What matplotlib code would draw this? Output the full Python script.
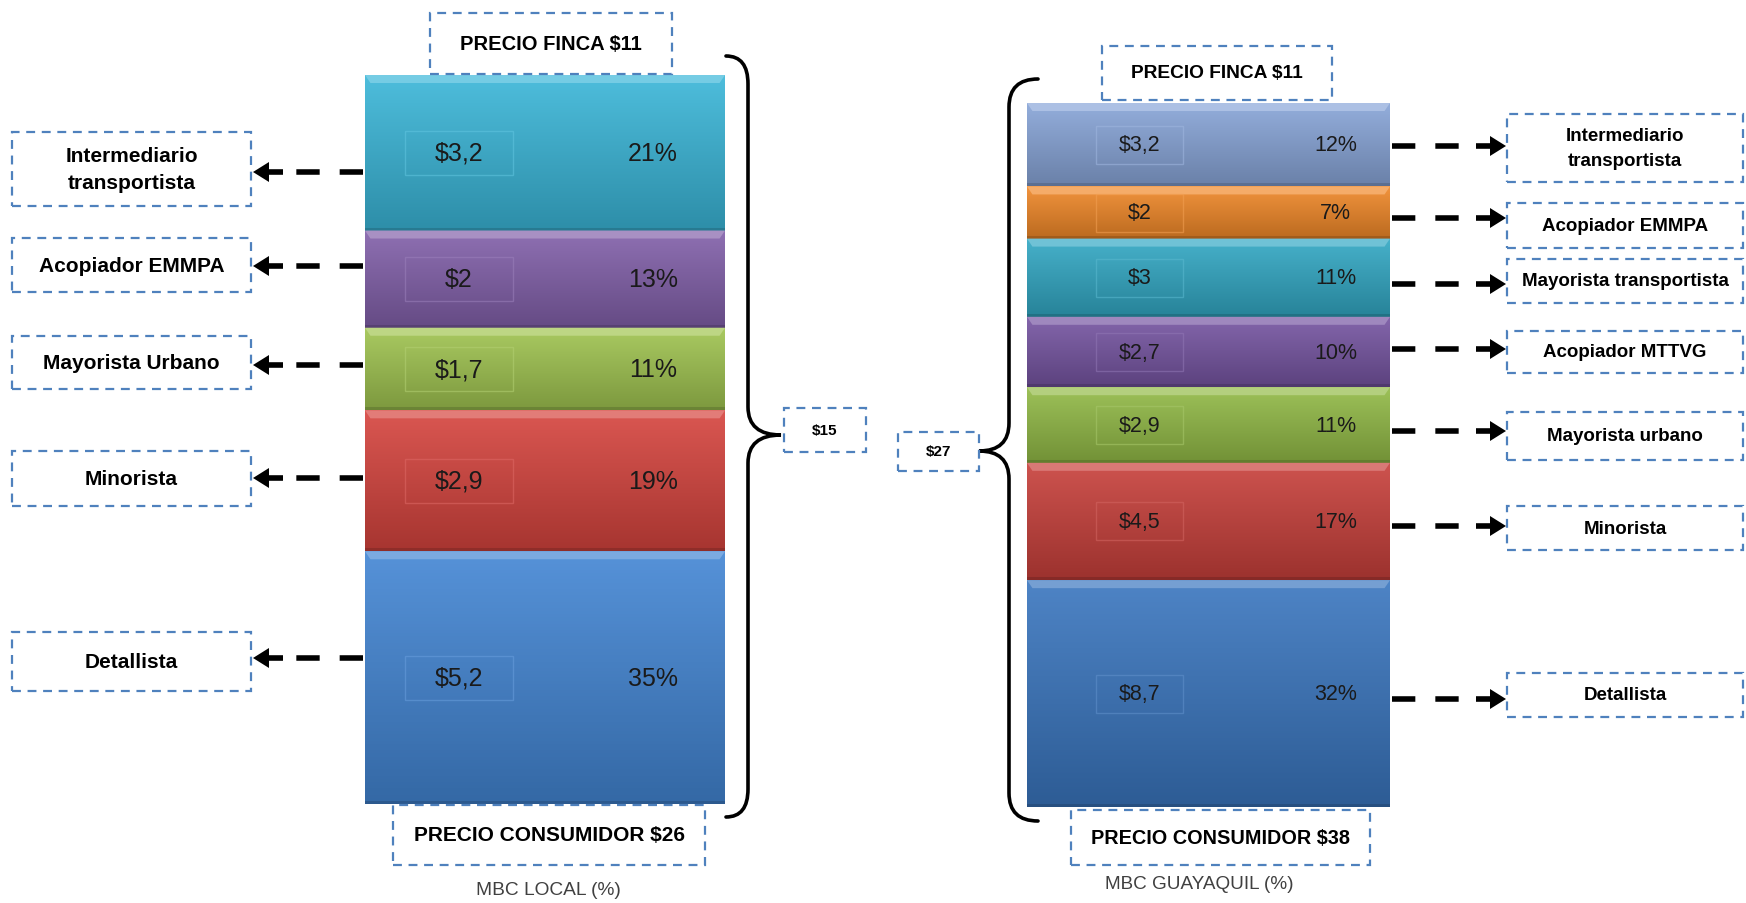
import numpy as np
import matplotlib
matplotlib.use('Agg')
import matplotlib.pyplot as plt
import matplotlib.colors as mcolors
from matplotlib.patches import Rectangle, Polygon, PathPatch
from matplotlib.path import Path
from matplotlib.lines import Line2D

plt.rcParams['font.family'] = ['Liberation Sans', 'DejaVu Sans']

W, H = 1746, 904

# MBC local market, agents from farm (top) to consumer (bottom)
local_agents = ['Intermediario\ntransportista', 'Acopiador EMMPA', 'Mayorista Urbano',
                'Minorista', 'Detallista']
local_margin = [3.2, 2, 1.7, 2.9, 5.2]
local_pct = [21, 13, 11, 19, 35]
local_colors = ['#3ab6d8', '#8260aa', '#a0c450', '#d6443e', '#4386d4']
local_farm, local_consumer, local_total = 11, 26, 15

# MBC Guayaquil market
gye_agents = ['Intermediario\ntransportista', 'Acopiador EMMPA', 'Mayorista transportista',
              'Acopiador MTTVG', 'Mayorista urbano', 'Minorista', 'Detallista']
gye_margin = [3.2, 2, 3, 2.7, 2.9, 4.5, 8.7]
gye_pct = [12, 7, 11, 10, 11, 17, 32]
gye_colors = ['#88a5d8', '#f08828', '#32a8c4', '#7655a2', '#92ba46', '#c8403b', '#3a76bf']
gye_farm, gye_consumer, gye_total = 11, 38, 27

fig = plt.figure(figsize=(W / 100, H / 100), dpi=100)
fig.patch.set_facecolor('white')


def fx(x):
    return x / W


def fy(y):
    return 1 - y / H


def shade(color, f):
    c = np.array(mcolors.to_rgb(color))
    if f > 0:
        return c + (1 - c) * f
    return c * (1 + f)


def money(v):
    return '$' + f'{v:g}'.replace('.', ',')


def dashed_box(x0, y0, x1, y1, text, fs, weight='bold'):
    fig.add_artist(Rectangle((fx(x0), fy(y1)), (x1 - x0) / W, (y1 - y0) / H,
                             transform=fig.transFigure, facecolor='white',
                             edgecolor='#4f81bd', lw=1.6, ls=(0, (4, 3)), zorder=3))
    fig.text(fx((x0 + x1) / 2), fy((y0 + y1) / 2), text, ha='center', va='center',
             fontsize=fs, fontweight=weight, color='black', linespacing=1.55, zorder=4)


def arrow(x_start, x_tip, y):
    d = 1 if x_tip > x_start else -1
    head_base = x_tip - d * 30
    fig.add_artist(Line2D([fx(x_start), fx(head_base)], [fy(y), fy(y)],
                          transform=fig.transFigure, color='black', lw=4,
                          dashes=(4.2, 3.6), solid_capstyle='butt', dash_capstyle='butt'))
    hb = x_tip - d * 16
    pts = [(head_base, y - 2.8), (hb, y - 2.8), (hb, y - 10), (x_tip, y),
           (hb, y + 10), (hb, y + 2.8), (head_base, y + 2.8)]
    fig.add_artist(Polygon([(fx(a), fy(b)) for a, b in pts], closed=True,
                           transform=fig.transFigure, color='black', lw=0))


def brace(x_end, x_mid, x_tip, y_top, y_tip, y_bot, r=28):
    verts = [(x_end, y_top), (x_mid, y_top), (x_mid, y_top + r),
             (x_mid, y_tip - r), (x_mid, y_tip), (x_tip, y_tip),
             (x_mid, y_tip), (x_mid, y_tip + r),
             (x_mid, y_bot - r), (x_mid, y_bot), (x_end, y_bot)]
    codes = [Path.MOVETO, Path.CURVE3, Path.CURVE3, Path.LINETO, Path.CURVE3, Path.CURVE3,
             Path.CURVE3, Path.CURVE3, Path.LINETO, Path.CURVE3, Path.CURVE3]
    path = Path([(fx(a), fy(b)) for a, b in verts], codes)
    fig.add_artist(PathPatch(path, transform=fig.transFigure, fill=False,
                             lw=2.6, ec='black', capstyle='round'))


def stacked_bar(rect, values, pct, colors, val_x, pct_x, box_w, box_h, fs):
    x0, y0, x1, y1 = rect
    ax = fig.add_axes([fx(x0), fy(y1), (x1 - x0) / W, (y1 - y0) / H])
    total = sum(values)
    bottoms = total - np.cumsum(values)
    bars = ax.bar(0, values, width=1, bottom=bottoms, align='edge', color=colors, lw=0)
    upx = total / (y1 - y0)  # data units per pixel
    grad = np.linspace(0, 1, 80)[:, None, None]
    for b, c, v, p in zip(bars, colors, values, pct):
        by, bh = b.get_y(), b.get_height()
        top = by + bh
        img = shade(c, 0.1)[None, None, :] * (1 - grad) + shade(c, -0.22)[None, None, :] * grad
        img = np.repeat(img, 2, axis=1)
        im = ax.imshow(img, extent=(0, 1, by, top), aspect='auto', origin='upper', zorder=2)
        im.set_clip_path(b)
        # bevel highlight along the top edge
        ax.add_patch(Polygon([(0, top), (1, top), (0.985, top - 8 * upx), (0.015, top - 8 * upx)],
                             closed=True, color=shade(c, 0.3), lw=0, zorder=3))
        ax.add_patch(Rectangle((0, by), 1, 3 * upx, color=shade(c, -0.4), lw=0, zorder=3, alpha=0.6))
        mid = by + bh / 2
        ax.add_patch(Rectangle((val_x - box_w / 2, mid - box_h * upx / 2), box_w, box_h * upx,
                               fill=False, ec=shade(c, 0.2), lw=1, alpha=0.55, zorder=4))
        ax.text(val_x, mid, money(v), ha='center', va='center', fontsize=fs,
                color='#1a1a1a', zorder=5)
        ax.text(pct_x, mid, f'{p}%', ha='center', va='center', fontsize=fs,
                color='#1a1a1a', zorder=5)
    ax.set_xlim(0, 1)
    ax.set_ylim(0, total)
    ax.axis('off')
    return ax


# left panel: MBC local
stacked_bar((365, 76, 725, 805), local_margin, local_pct, local_colors,
            0.26, 0.80, 0.30, 44, 18)
dashed_box(430, 14, 672, 75, f'PRECIO FINCA ${local_farm}', 14.5)
dashed_box(393, 806, 705, 866, f'PRECIO CONSUMIDOR ${local_consumer}', 15)
fig.text(fx(548), fy(891), 'MBC LOCAL (%)', ha='center', va='center', fontsize=13.8, color='#404040')
local_boxes = [(133, 207), (239, 293), (337, 390), (452, 507), (633, 692)]
local_arrows = [173, 267, 366, 479, 659]
for name, (b0, b1), ya in zip(local_agents, local_boxes, local_arrows):
    dashed_box(12, b0, 251, b1, name, 15)
    arrow(363, 253, ya)
brace(726, 748, 781, 57, 436, 818)
dashed_box(784, 409, 866, 453, f'${local_total}', 11)

# right panel: MBC Guayaquil
stacked_bar((1027, 104, 1390, 808), gye_margin, gye_pct, gye_colors,
            0.31, 0.85, 0.24, 38, 15.5)
dashed_box(1102, 47, 1332, 101, f'PRECIO FINCA ${gye_farm}', 13.8)
dashed_box(1071, 811, 1370, 866, f'PRECIO CONSUMIDOR ${gye_consumer}', 14.3)
fig.text(fx(1199), fy(885), 'MBC GUAYAQUIL (%)', ha='center', va='center', fontsize=13.6, color='#404040')
gye_boxes = [(115, 183), (204, 249), (260, 304), (332, 374), (413, 461), (507, 551), (674, 718)]
gye_arrows = [147, 219, 285, 350, 432, 527, 700]
for name, (b0, b1), ya in zip(gye_agents, gye_boxes, gye_arrows):
    dashed_box(1507, b0, 1743, b1, name, 13.5)
    arrow(1392, 1506, ya)
brace(1038, 1009, 979, 80, 452, 822)
dashed_box(898, 433, 979, 472, f'${gye_total}', 11)

fig.savefig('out.png', dpi=100)
